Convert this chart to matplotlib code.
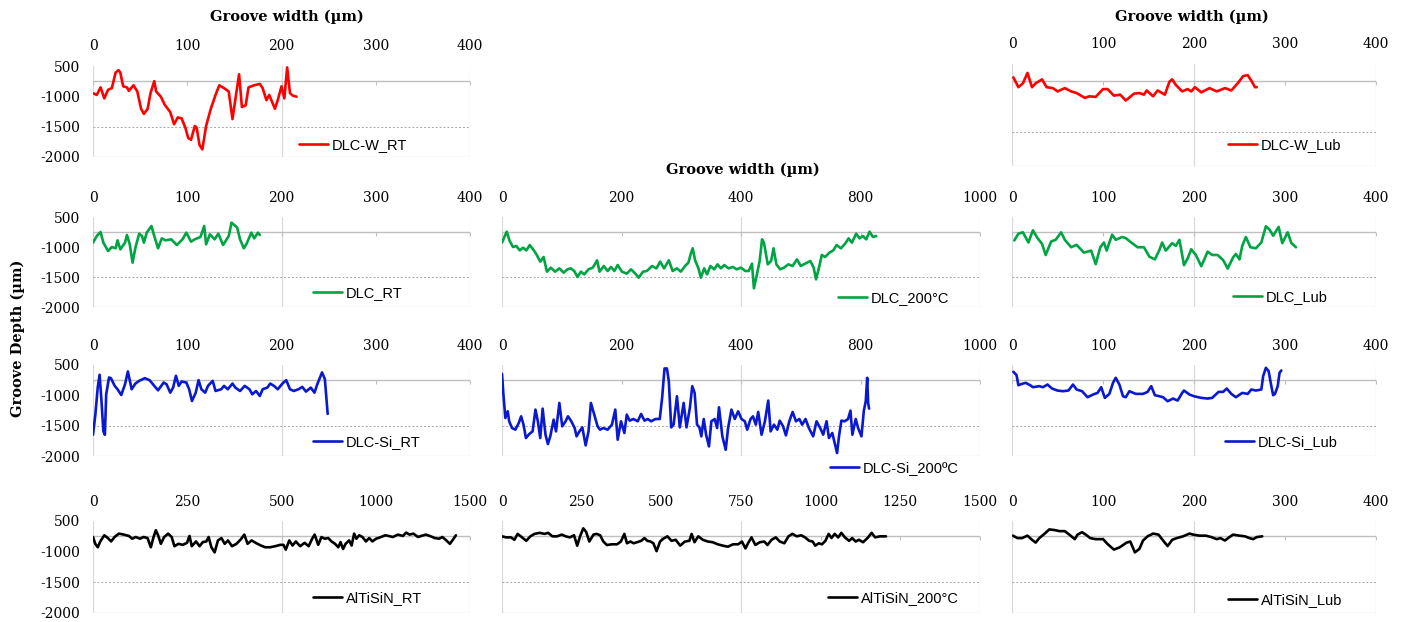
import matplotlib
matplotlib.use("Agg")
import matplotlib.pyplot as plt

# -----------------------------------------------------------------------------
# DATA (groove width, groove depth)
# -----------------------------------------------------------------------------
dlcw_rt_x = [0, 4, 8, 12, 16, 20, 24, 27, 29, 32, 36, 38, 43, 47, 51, 54, 58, 61, 65,
             67, 72, 76, 82, 86, 90, 94, 98, 101, 104, 108, 110, 113, 116, 120, 125,
             130, 134, 140, 144, 148, 152, 155, 158, 162, 165, 171, 177, 180, 184, 187,
             193, 196, 200, 203, 206, 209, 212, 216]
dlcw_rt_y = [-949, -977, -852, -1034, -892, -864, -608, -568, -608, -835, -852, -909,
             -818, -920, -1205, -1290, -1205, -949, -750, -920, -1006, -1136, -1261,
             -1460, -1347, -1364, -1517, -1687, -1716, -1489, -1517, -1801, -1875,
             -1489, -1205, -977, -818, -875, -920, -1375, -949, -636, -1176, -1148,
             -852, -818, -796, -864, -1063, -977, -1205, -1063, -835, -1034, -523,
             -949, -989, -1006]

dlcw_lub_x = [1.5, 7, 12, 17, 22, 26, 33, 38, 45, 50, 58, 65, 71, 80, 85, 92, 100, 105,
              112, 119, 125, 134, 140, 145, 148, 155, 160, 168, 173, 176, 180, 187, 193,
              197, 201, 208, 217, 225, 234, 241, 248, 254, 259, 263, 267, 269]
dlcw_lub_y = [-697, -841, -784, -631, -841, -784, -726, -841, -855, -903, -855, -903,
              -927, -998, -975, -984, -869, -869, -965, -951, -1037, -937, -927, -951,
              -889, -975, -889, -951, -760, -726, -807, -903, -869, -903, -841, -917,
              -855, -903, -855, -889, -784, -678, -664, -745, -841, -841]

dlc_rt_x = [0, 4, 8, 11, 16, 20, 24, 26, 29, 34, 36, 39, 42, 45, 49, 52, 54, 57, 62, 65,
            69, 73, 77, 83, 89, 95, 99, 104, 108, 114, 118, 120, 124, 129, 133, 138, 144,
            147, 153, 156, 160, 163, 168, 171, 175, 177]
dlc_rt_y = [-928, -817, -750, -928, -1067, -1000, -1022, -889, -1039, -928, -800, -956,
            -1261, -1011, -778, -817, -928, -761, -650, -817, -1022, -856, -889, -872,
            -967, -872, -761, -911, -872, -833, -650, -956, -789, -872, -778, -967, -817,
            -594, -678, -872, -1022, -944, -761, -856, -761, -800]

dlc_200_x = [0, 5, 10, 16, 23, 30, 37, 44, 51, 58, 65, 72, 80, 87, 94, 102, 111, 120, 129,
             137, 144, 151, 158, 165, 172, 181, 190, 199, 204, 213, 221, 228, 235, 242,
             251, 261, 270, 279, 286, 295, 303, 314, 323, 331, 339, 349, 357, 366, 374,
             383, 390, 395, 399, 404, 411, 416, 423, 429, 436, 444, 451, 458, 465, 474,
             483, 491, 500, 509, 516, 523, 527, 533, 539, 544, 548, 556, 563, 568, 574,
             582, 590, 599, 608, 617, 625, 634, 645, 652, 657, 664, 669, 676, 685, 693,
             700, 709, 718, 725, 732, 741, 748, 755, 762, 769, 776, 783]
dlc_200_y = [-928, -833, -744, -900, -1000, -983, -1056, -1011, -1056, -967, -1039, -1122,
             -1244, -1167, -1411, -1344, -1411, -1356, -1428, -1372, -1356, -1400, -1500,
             -1411, -1456, -1372, -1344, -1222, -1411, -1317, -1400, -1333, -1400, -1300,
             -1411, -1444, -1372, -1444, -1511, -1411, -1400, -1317, -1356, -1244, -1356,
             -1222, -1400, -1356, -1411, -1317, -1261, -1111, -1022, -1222, -1356, -1511,
             -1356, -1456, -1317, -1372, -1289, -1356, -1300, -1356, -1333, -1372, -1344,
             -1400, -1400, -1278, -1689, -1467, -1233, -872, -928, -1289, -1233, -1022,
             -1289, -1372, -1344, -1289, -1317, -1206, -1317, -1278, -1233, -1344, -1539,
             -1317, -1133, -1167, -1094, -1056, -967, -1022, -944, -856, -928, -778, -856,
             -817, -872, -744, -833, -817]

dlc_lub_x = [2.5, 7, 12, 18, 23, 28, 33, 37, 43, 48, 54, 58, 65, 71, 79, 87, 92, 97, 101,
             104, 110, 114, 121, 125, 131, 138, 145, 151, 157, 162, 165, 169, 176, 180,
             184, 189, 193, 197, 202, 208, 215, 220, 226, 232, 237, 243, 246, 250, 253,
             257, 262, 268, 274, 279, 283, 287, 293, 297, 303, 307, 312]
dlc_lub_y = [-891, -778, -755, -925, -722, -851, -947, -1133, -908, -880, -755, -880,
             -1004, -964, -1094, -1060, -1286, -1004, -925, -1060, -795, -880, -834, -851,
             -925, -1004, -1004, -1162, -1207, -1049, -925, -1060, -936, -981, -880, -1303,
             -1190, -1038, -1133, -1320, -1077, -1133, -1133, -1218, -1359, -1173, -1116,
             -1207, -981, -834, -1004, -1021, -925, -654, -710, -812, -665, -936, -755,
             -936, -1004]

dlcsi_rt_x = [0, 2.5, 5, 7, 9, 11, 12.6, 14, 17, 19, 23, 26, 30, 34, 37, 41, 45, 49, 55,
              60, 65, 69, 75, 78, 82, 85, 88, 91, 94, 99, 102, 105, 109, 112, 115, 119,
              122, 127, 130, 136, 139, 143, 148, 151, 156, 161, 166, 169, 173, 177, 180,
              185, 188, 192, 196, 201, 205, 209, 213, 218, 222, 226, 231, 235, 238, 243,
              246, 249]
dlcsi_rt_y = [-1650, -1317, -872, -661, -1094, -1594, -1650, -983, -706, -717, -844, -900,
              -994, -817, -606, -900, -806, -761, -717, -750, -844, -917, -789, -817, -956,
              -872, -678, -844, -772, -789, -900, -1094, -956, -750, -900, -956, -844, -761,
              -928, -900, -844, -900, -806, -872, -928, -844, -900, -983, -928, -1011, -900,
              -872, -806, -844, -900, -806, -750, -900, -928, -900, -861, -939, -872, -956,
              -817, -622, -733, -1306]

dlcsi_200_x = [0, 3, 7, 12, 15, 21, 28, 35, 40, 45, 50, 57, 64, 70, 75, 80, 85, 91, 96,
               101, 108, 113, 120, 126, 133, 138, 145, 152, 156, 162, 168, 175, 181, 186,
               193, 200, 205, 212, 221, 230, 237, 242, 249, 256, 261, 267, 275, 284, 291,
               298, 305, 312, 321, 330, 335, 340, 345, 349, 354, 359, 366, 372, 380, 386,
               393, 398, 403, 408, 413, 417, 422, 427, 433, 438, 445, 450, 454, 461, 468,
               473, 480, 487, 494, 501, 508, 513, 520, 525, 531, 536, 543, 550, 557, 562,
               569, 576, 581, 588, 594, 601, 608, 615, 622, 628, 635, 642, 651, 658, 665,
               672, 679, 684, 691, 696, 701, 705, 710, 717, 724, 729, 733, 740, 745, 752,
               757, 761, 764, 766, 768]
dlcsi_200_y = [-645, -987, -1373, -1263, -1428, -1539, -1566, -1456, -1346, -1483, -1704,
               -1638, -1594, -1235, -1428, -1704, -1219, -1649, -1803, -1676, -1401, -1594,
               -1125, -1511, -1428, -1346, -1428, -1539, -1676, -1594, -1528, -1825, -1594,
               -1125, -1318, -1511, -1566, -1539, -1566, -1483, -1235, -1732, -1428, -1621,
               -1318, -1417, -1390, -1428, -1307, -1417, -1390, -1428, -1390, -1390, -1042,
               -557, -557, -767, -1528, -1483, -1015, -1528, -1125, -1528, -1208, -849,
               -960, -1483, -1528, -1676, -1390, -1649, -1842, -1428, -1390, -1539, -1197,
               -1676, -1897, -1539, -1235, -1390, -1263, -1390, -1428, -1566, -1390, -1346,
               -1483, -1274, -1649, -1428, -1086, -1594, -1483, -1566, -1417, -1511, -1660,
               -1428, -1274, -1428, -1390, -1483, -1390, -1539, -1676, -1428, -1528, -1649,
               -1428, -1704, -1621, -1787, -1952, -1676, -1417, -1428, -1390, -1252, -1649,
               -1390, -1539, -1676, -1252, -1097, -711, -1125, -1219]

dlcsi_lub_x = [1.5, 5, 7, 11, 15, 20, 23, 30, 34, 39, 44, 50, 56, 62, 67, 71, 77, 83, 89,
               94, 98, 102, 107, 111, 114, 118, 122, 125, 129, 136, 144, 149, 153, 157,
               162, 166, 171, 177, 182, 187, 189, 195, 200, 208, 215, 220, 227, 232, 236,
               241, 246, 253, 259, 263, 268, 274, 276, 279, 282, 285, 287, 289, 292, 294,
               296]
dlcsi_lub_y = [-612, -667, -833, -811, -794, -833, -866, -849, -866, -822, -888, -921,
               -932, -921, -822, -904, -932, -1031, -987, -960, -866, -1042, -976, -794,
               -711, -822, -1015, -1031, -932, -976, -976, -943, -849, -998, -1015, -1031,
               -1097, -1053, -1086, -960, -921, -987, -1015, -1042, -1053, -1042, -943,
               -943, -888, -976, -1031, -960, -976, -904, -921, -904, -684, -546, -601,
               -849, -998, -976, -849, -629, -590]

altisin_rt_x = [0, 9, 19, 29, 45, 59, 72, 86, 103, 123, 143, 156, 170, 187, 201, 217, 230,
                241, 250, 259, 270, 283, 299, 313, 324, 340, 357, 374, 384, 393, 410, 424,
                437, 451, 460, 471, 484, 497, 511, 524, 537, 553, 571, 588, 602, 615, 631,
                647, 668, 685, 705, 725, 745, 758, 767, 781, 794, 807, 824, 842, 858, 872,
                882, 896, 909, 922, 936, 949, 963, 976, 985, 995, 1005, 1019, 1029, 1039,
                1048, 1059, 1072, 1086, 1099, 1112, 1126, 1146, 1163, 1176, 1193, 1213,
                1233, 1246, 1259, 1275, 1293, 1306, 1324, 1340, 1360, 1377, 1390, 1406,
                1420, 1430, 1444]
altisin_rt_y = [-761, -872, -928, -833, -733, -778, -833, -761, -706, -722, -744, -789,
                -761, -789, -761, -778, -928, -761, -650, -733, -872, -761, -706, -761, -911,
                -872, -889, -856, -744, -911, -833, -911, -844, -833, -761, -928, -1011,
                -817, -778, -872, -817, -911, -872, -800, -722, -872, -817, -856, -900, -928,
                -928, -911, -889, -889, -967, -817, -900, -833, -911, -856, -911, -789, -722,
                -889, -761, -789, -778, -833, -872, -928, -844, -956, -872, -817, -900, -706,
                -789, -733, -761, -833, -778, -833, -789, -761, -733, -744, -761, -722, -744,
                -689, -722, -706, -761, -744, -722, -744, -778, -789, -761, -817, -872, -817,
                -733]

altisin_200_x = [0, 13, 28, 39, 49, 63, 76, 89, 102, 118, 134, 145, 158, 173, 187, 200,
                 213, 226, 236, 245, 255, 264, 274, 287, 297, 308, 318, 329, 345, 361, 373,
                 384, 392, 403, 413, 424, 437, 447, 456, 466, 475, 485, 496, 506, 519, 532,
                 545, 559, 574, 588, 595, 604, 616, 630, 646, 661, 677, 693, 709, 725, 741,
                 753, 764, 772, 783, 795, 809, 823, 833, 846, 859, 872, 886, 899, 911, 925,
                 939, 951, 964, 975, 983, 994, 1004, 1015, 1025, 1034, 1044, 1055, 1065,
                 1076, 1089, 1099, 1110, 1120, 1133, 1147, 1160, 1171, 1186, 1205]
altisin_200_y = [-750, -767, -767, -806, -710, -767, -823, -750, -710, -693, -710, -693,
                 -750, -750, -722, -750, -767, -733, -902, -750, -620, -677, -835, -722,
                 -710, -733, -835, -891, -880, -880, -835, -710, -863, -835, -863, -846,
                 -823, -778, -823, -835, -863, -992, -835, -789, -750, -823, -806, -902,
                 -835, -823, -710, -846, -750, -806, -835, -846, -880, -902, -919, -880,
                 -880, -835, -947, -863, -767, -891, -846, -835, -891, -806, -767, -835,
                 -863, -750, -710, -750, -733, -767, -823, -835, -902, -863, -880, -823,
                 -710, -778, -710, -767, -693, -767, -823, -778, -835, -806, -846, -778,
                 -693, -767, -750, -750]

altisin_lub_x = [1, 6, 11, 17, 22, 26, 30, 36, 41, 47, 52, 58, 63, 69, 72, 77, 81, 86, 92,
                 100, 105, 112, 118, 126, 130, 135, 140, 144, 149, 155, 161, 166, 171, 176,
                 181, 188, 195, 199, 206, 213, 219, 225, 229, 234, 239, 243, 250, 256, 261,
                 265, 269, 275]
altisin_lub_y = [-739, -779, -779, -739, -807, -852, -779, -705, -637, -648, -665, -665,
                 -722, -796, -722, -682, -722, -779, -796, -796, -875, -966, -932, -852,
                 -835, -1011, -955, -818, -750, -705, -722, -818, -909, -807, -779, -750,
                 -705, -722, -739, -739, -762, -796, -779, -818, -762, -722, -739, -750,
                 -779, -796, -762, -750]

# -----------------------------------------------------------------------------
# STYLE
# -----------------------------------------------------------------------------
W, H = 1401, 622
RED, GREEN, BLUE, BLACK = "#ff0000", "#00a443", "#0a18d0", "#000000"
GRID_LIGHT = "#d9d9d9"
AXIS_GRAY = "#bfbfbf"
SERIF = "DejaVu Serif"
SANS = "Liberation Sans"

X400 = (400, [0, 100, 200, 300, 400], ["0", "100", "200", "300", "400"])
X1000 = (1000, [0, 250, 500, 750, 1000], ["0", "200", "400", "800", "1000"])
X1500A = (1500, [0, 375, 750, 1125, 1500], ["0", "250", "500", "1000", "1500"])
X1500B = (1500, [0, 250, 500, 750, 1000, 1250, 1500],
          ["0", "250", "500", "750", "1000", "1250", "1500"])

COLS = {"L": (93, 470), "M": (502, 980), "R": (1012, 1376)}

# (label, x, y, color, column, top px, bottom px, x-axis, legend anchor px)
panels = [
    ("DLC-W_RT", dlcw_rt_x, dlcw_rt_y, RED, "L", 66, 157, X400, (299, 145)),
    ("DLC-W_Lub", dlcw_lub_x, dlcw_lub_y, RED, "R", 64, 166, X400, (1228, 145)),
    ("DLC_RT", dlc_rt_x, dlc_rt_y, GREEN, "L", 217, 307, X400, (313, 293)),
    ("DLC_200°C", dlc_200_x, dlc_200_y, GREEN, "M", 217, 307, X1000, (838, 298)),
    ("DLC_Lub", dlc_lub_x, dlc_lub_y, GREEN, "R", 217, 307, X400, (1233, 297)),
    ("DLC-Si_RT", dlcsi_rt_x, dlcsi_rt_y, BLUE, "L", 365, 456, X400, (313, 442)),
    ("DLC-Si_200ºC", dlcsi_200_x, dlcsi_200_y, BLUE, "M", 365, 456, X1000, (830, 468)),
    ("DLC-Si_Lub", dlcsi_lub_x, dlcsi_lub_y, BLUE, "R", 365, 456, X400, (1225, 442)),
    ("AlTiSiN_RT", altisin_rt_x, altisin_rt_y, BLACK, "L", 521, 613, X1500A, (313, 598)),
    ("AlTiSiN_200°C", altisin_200_x, altisin_200_y, BLACK, "M", 521, 613, X1500B, (828, 598)),
    ("AlTiSiN_Lub", altisin_lub_x, altisin_lub_y, BLACK, "R", 521, 613, X400, (1228, 600)),
]

fig = plt.figure(figsize=(W / 100, H / 100), dpi=100)
fig.patch.set_facecolor("white")

for label, xs, ys, color, col, top, bot, xaxis, leg_px in panels:
    left, right = COLS[col]
    ax = fig.add_axes([left / W, 1 - bot / H, (right - left) / W, (bot - top) / H])
    xmax, xt, xtl = xaxis

    # -- frame / gridlines ---------------------------------------------------
    for s in ax.spines.values():
        s.set_visible(False)
    for xv in (0, xmax / 2, xmax):
        ax.axvline(xv, color=GRID_LIGHT, lw=0.9, zorder=1)
    ax.axhline(-2000, color=GRID_LIGHT, lw=0.9, zorder=1)
    ax.axhline(-1500, color="#a6a6a6", lw=0.7, ls=(0, (2, 2)), zorder=1)
    ax.axhline(-750, color=AXIS_GRAY, lw=1.0, zorder=1)
    ax.plot(xt, [-750] * len(xt), ls="", marker=3, ms=3, mew=0.8,
            color=AXIS_GRAY, zorder=1)

    # -- profile ---------------------------------------------------------------
    ax.plot(xs, ys, color=color, lw=1.9, zorder=3, label=label,
            solid_joinstyle="round", solid_capstyle="round")

    ax.set_xlim(0, xmax)
    ax.set_ylim(-2000, -500)
    ax.xaxis.tick_top()
    ax.set_xticks(xt)
    ax.set_xticklabels(xtl, fontfamily=SERIF, fontsize=10)
    ax.tick_params(axis="x", length=0, pad=9)
    ax.set_yticks([-500, -1000, -1500, -2000])
    if col == "L":
        ax.set_yticklabels(["500", "-1000", "-1500", "-2000"],
                           fontfamily=SERIF, fontsize=10)
    else:
        ax.set_yticklabels([])
    ax.tick_params(axis="y", length=0, pad=9)
    ax.patch.set_alpha(0)

    ax.legend(loc="center left", bbox_to_anchor=(leg_px[0] / W, 1 - leg_px[1] / H),
              bbox_transform=fig.transFigure, frameon=False, borderpad=0,
              borderaxespad=0, handlelength=2.0, handletextpad=0.25,
              prop={"family": SANS, "size": 10.5})

# -- figure-level labels ------------------------------------------------------
title_kw = dict(fontfamily=SERIF, fontweight="bold", fontsize=10.5,
                ha="center", va="center")
fig.text(287 / W, 1 - 17 / H, "Groove width (µm)", **title_kw)
fig.text(1192 / W, 1 - 17 / H, "Groove width (µm)", **title_kw)
fig.text(743 / W, 1 - 170 / H, "Groove width (µm)", **title_kw)
fig.text(18 / W, 1 - 338 / H, "Groove Depth (µm)", rotation=90, **title_kw)

fig.savefig("out.png", dpi=100, facecolor="white")
